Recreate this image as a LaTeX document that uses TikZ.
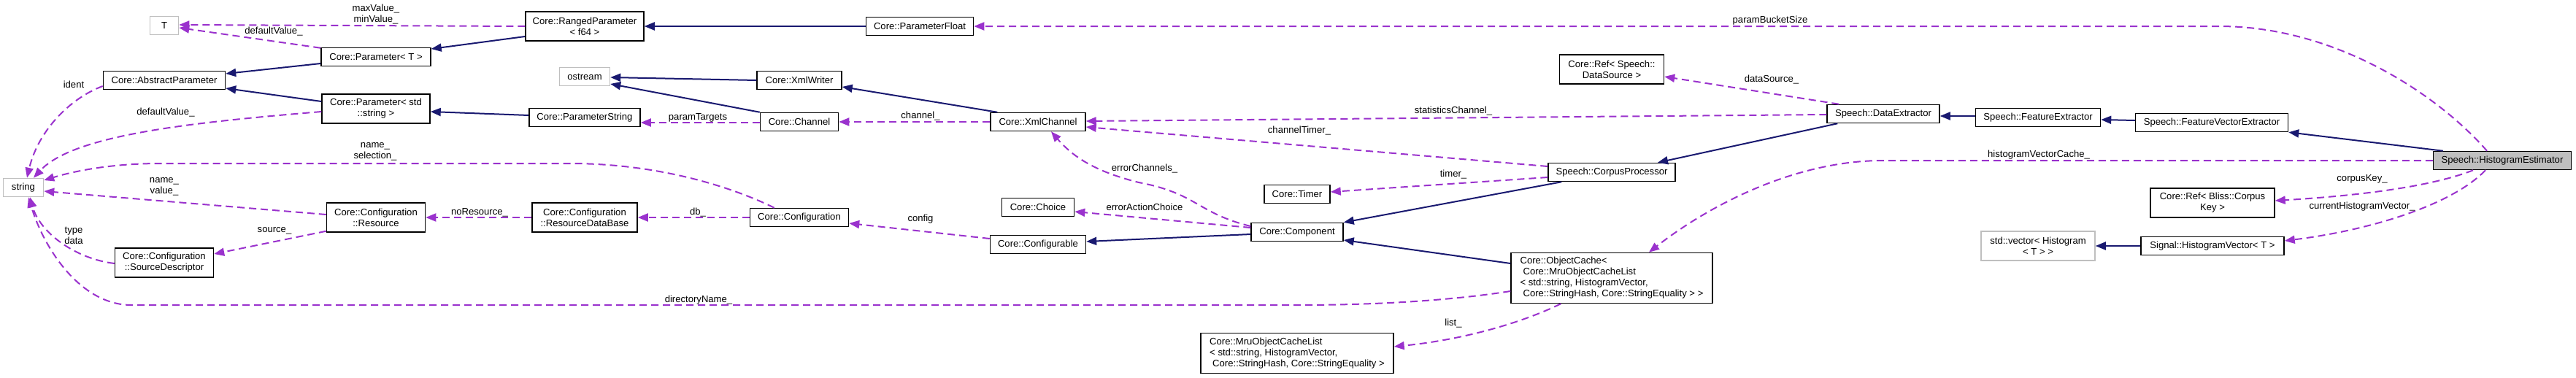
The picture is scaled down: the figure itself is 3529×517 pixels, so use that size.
\documentclass[tikz,border=0pt]{standalone}
\usepackage{fontspec}
\setmainfont{Liberation Sans}
\usetikzlibrary{arrows.meta,calc}
\definecolor{inhblue}{HTML}{191970}
\definecolor{usepurple}{HTML}{9A32CD}
\definecolor{boxgray}{HTML}{BFBFBF}
\begin{document}
\begin{tikzpicture}[x=1pt,y=-1pt,
  every node/.style={font=\fontsize{13.1}{15}\selectfont, inner sep=0pt},
  cls/.style={draw=black, line width=1.5pt, fill=white, align=center},
  ext/.style={draw=boxgray, line width=1.5pt, fill=white, align=center},
  inh/.style={draw=inhblue, line width=2pt, -{Triangle[length=14pt,width=11pt]}},
  use/.style={draw=usepurple, line width=2pt, dash pattern=on 10pt off 6pt, -{Triangle[length=14pt,width=11pt]}},
  lbl/.style={align=center},
  sz/.style 2 args={minimum width=#1pt, minimum height=#2pt}]
\useasboundingbox (0,0) rectangle (3529,517);
% nodes
\node[ext, sz={39}{25}] (tt) at (225,35) {T};
\node[cls, sz={162}{40}] (rp) at (801,36) {Core::RangedParameter\\< f64 >};
\node[cls, sz={150}{25}] (pt) at (515,78) {Core::Parameter< T >};
\node[cls, sz={167}{25}] (ap) at (225,110) {Core::AbstractParameter};
\node[ext, sz={69}{25}] (os) at (801,105) {ostream};
\node[cls, sz={148}{40}] (ps) at (515,149) {Core::Parameter< std\\::string >};
\node[cls, sz={152}{25}] (pstr) at (801,161) {Core::ParameterString};
\node[ext, sz={55}{25}] (str) at (32,257) {string};
\node[cls, sz={135}{40}] (res) at (515,298) {Core::Configuration\\::Resource};
\node[cls, sz={144}{40}] (rdb) at (801,298) {Core::Configuration\\::ResourceDataBase};
\node[cls, sz={135}{40}] (sd) at (225,360) {Core::Configuration\\::SourceDescriptor};
\node[cls, sz={147}{25}] (pf) at (1260,36) {Core::ParameterFloat};
\node[cls, sz={116}{25}] (xw) at (1095,110) {Core::XmlWriter};
\node[cls, sz={107}{25}] (ch) at (1095,167) {Core::Channel};
\node[cls, sz={130}{25}] (xc) at (1422,167) {Core::XmlChannel};
\node[cls, sz={135}{25}] (conf) at (1095,298) {Core::Configuration};
\node[cls, sz={99}{25}] (cho) at (1422,284) {Core::Choice};
\node[cls, sz={131}{25}] (cfg) at (1422,335) {Core::Configurable};
\node[cls, sz={90}{25}] (tim) at (1777,266) {Core::Timer};
\node[cls, sz={126}{25}] (comp) at (1777,318) {Core::Component};
\node[cls, sz={264}{55}, align=left] (mru) at (1777,484) {Core::MruObjectCacheList\\< std::string, HistogramVector,\\\hspace*{4pt}Core::StringHash, Core::StringEquality >};
\node[cls, sz={143}{40}] (rds) at (2208,95) {Core::Ref< Speech::\\DataSource >};
\node[cls, sz={154}{25}] (de) at (2580,156) {Speech::DataExtractor};
\node[cls, sz={174}{25}] (cp) at (2208,236) {Speech::CorpusProcessor};
\node[cls, sz={276}{69}, align=left] (oc) at (2208,381) {Core::ObjectCache<\\\hspace*{4pt}Core::MruObjectCacheList\\< std::string, HistogramVector,\\\hspace*{4pt}Core::StringHash, Core::StringEquality > >};
\node[cls, sz={171}{25}] (fe) at (2792,161) {Speech::FeatureExtractor};
\node[cls, sz={209}{25}] (fve) at (3030,168) {Speech::FeatureVectorExtractor};
\node[cls, sz={189}{25}, fill=boxgray] (he) at (3428,220) {Speech::HistogramEstimator};
\node[cls, sz={170}{40}] (rck) at (3031,278) {Core::Ref< Bliss::Corpus\\Key >};
\node[ext, sz={156}{40}] (sv) at (2792,337) {std::vector< Histogram\\< T > >};
\node[cls, sz={196}{25}] (hv) at (3031,337) {Signal::HistogramVector< T >};
% inheritance
\draw[inh] ($(rp.west)+(0,14)$) -- ($(pt.east)+(0,-11)$);
\draw[inh] ($(pt.west)+(0,9)$) -- ($(ap.east)+(0,-9)$);
\draw[inh] ($(ps.west)+(0,-10)$) -- ($(ap.east)+(0,11)$);
\draw[inh] (pf.west) -- (rp.east);
\draw[inh] ($(pstr.west)+(0,-3)$) -- ($(ps.east)+(0,4)$);
\draw[inh] (xw.west) -- ($(os.east)+(0,1)$);
\draw[inh] (ch.north west) -- ($(os.east)+(0,10)$);
\draw[inh] ($(xc.north west)+(10,0)$) -- ($(xw.east)+(0,9)$);
\draw[inh] ($(comp.west)+(0,3)$) -- ($(cfg.east)+(0,-4)$);
\draw[inh] ($(cp.south west)+(19,0)$) -- (comp.north east);
\draw[inh] ($(oc.west)+(0,-20)$) -- ($(comp.east)+(0,11)$);
\draw[inh] ($(de.south west)+(15,0)$) -- ($(cp.north)+(63,0)$);
\draw[inh] ($(fe.west)+(0,-2)$) -- ($(de.east)+(0,3)$);
\draw[inh] ($(fve.west)+(0,-3)$) -- ($(fe.east)+(0,3)$);
\draw[inh] ($(he.north west)+(14,0)$) -- (fve.south east);
\draw[inh] (hv.west) -- (sv.east);
% usage
\draw[use] (rp.west) -- ($(tt.east)+(0,-1)$);
\draw[use] ($(pt.north west)+(0,1)$) -- ($(tt.east)+(0,3)$);
\draw[use] ($(ap.west)+(0,8)$) .. controls (95,135) and (52,180) .. ($(str.north)+(5,0)$);
\draw[use] ($(ps.west)+(0,4)$) .. controls (260,168) and (100,185) .. ($(str.north)+(14,0)$);
\draw[use] ($(conf.north west)+(34,0)$) .. controls (1000,255) and (900,224) .. (780,224) -- (220,224) .. controls (150,224) and (100,235) .. ($(str.east)+(0,-10)$);
\draw[use] ($(res.west)+(0,-4)$) -- ($(str.east)+(0,5)$);
\draw[use] ($(sd.west)+(0,1)$) .. controls (105,355) and (55,320) .. ($(str.south)+(9,0)$);
\draw[use] ($(res.south west)+(0,-2)$) -- ($(sd.east)+(0,-12)$);
\draw[use] (rdb.west) -- (res.east);
\draw[use] (conf.west) -- (rdb.east);
\draw[use] ($(cfg.west)+(0,-8)$) -- ($(conf.east)+(0,8)$);
\draw[use] ($(ch.west)+(0,1)$) -- ($(pstr.east)+(0,7)$);
\draw[use] (xc.west) -- (ch.east);
\draw[use] ($(de.west)+(0,1)$) -- ($(xc.east)+(0,-1)$);
\draw[use] ($(cp.west)+(0,-8)$) -- ($(xc.east)+(0,7)$);
\draw[use] ($(comp.west)+(0,-8)$) .. controls (1640,292) and (1640,265) .. (1560,250) .. controls (1500,235) and (1470,215) .. ($(xc.south)+(18,0)$);
\draw[use] ($(comp.west)+(0,-6)$) -- ($(cho.east)+(0,6)$);
\draw[use] ($(cp.west)+(0,7)$) -- ($(tim.east)+(0,-3)$);
\draw[use] ($(de.north west)+(17,0)$) -- ($(rds.east)+(0,10)$);
\draw[use] ($(oc.west)+(0,18)$) .. controls (2000,410) and (1900,418) .. (1780,418) -- (180,418) .. controls (110,418) and (60,340) .. ($(str.south)+(7,0)$);
\draw[use] ($(oc.south west)+(69,0)$) .. controls (2090,440) and (2010,465) .. ($(mru.east)+(0,-9)$);
\draw[use] (he.west) -- (2580,220) .. controls (2450,220) and (2330,290) .. ($(oc.north)+(51,0)$);
\draw[use] ($(he.north)+(-21,0)$) .. controls (3340,130) and (3200,36) .. (3040,36) -- (pf.east);
\draw[use] ($(he.south)+(-40,0)$) .. controls (3320,260) and (3200,270) .. ($(rck.east)+(0,-3)$);
\draw[use] ($(he.south)+(-23,0)$) .. controls (3360,280) and (3250,315) .. ($(hv.east)+(0,-7)$);
% labels
\node[lbl] (l1) at (515,19.5) {maxValue\_\\minValue\_};
\node[lbl] (l2) at (375,43) {defaultValue\_};
\node[lbl] (l3) at (101,116) {ident};
\node[lbl] (l4) at (227,154) {defaultValue\_};
\node[lbl] (l5) at (514,208) {name\_\\selection\_};
\node[lbl] (l6) at (225,256) {name\_\\value\_};
\node[lbl] (l7) at (101,323) {type\\data};
\node[lbl] (l8) at (376,316) {source\_};
\node[lbl] (l9) at (657,291) {noResource\_};
\node[lbl] (l10) at (956,291) {db\_};
\node[lbl] (l11) at (1261,300) {config};
\node[lbl] (l12) at (956,161) {paramTargets};
\node[lbl] (l13) at (1261,159) {channel\_};
\node[lbl] (l14) at (1991,152) {statisticsChannel\_};
\node[lbl] (l15) at (1780,179) {channelTimer\_};
\node[lbl] (l16) at (1568,231) {errorChannels\_};
\node[lbl] (l17) at (1568,284) {errorActionChoice};
\node[lbl] (l18) at (1991,239) {timer\_};
\node[lbl] (l19) at (2427,109) {dataSource\_};
\node[lbl] (l20) at (957,411) {directoryName\_};
\node[lbl] (l21) at (1991,443) {list\_};
\node[lbl] (l22) at (2793,212) {histogramVectorCache\_};
\node[lbl] (l23) at (2425,28) {paramBucketSize};
\node[lbl] (l24) at (3236,245) {corpusKey\_};
\node[lbl] (l25) at (3236,283) {currentHistogramVector\_};
\end{tikzpicture}
\end{document}
